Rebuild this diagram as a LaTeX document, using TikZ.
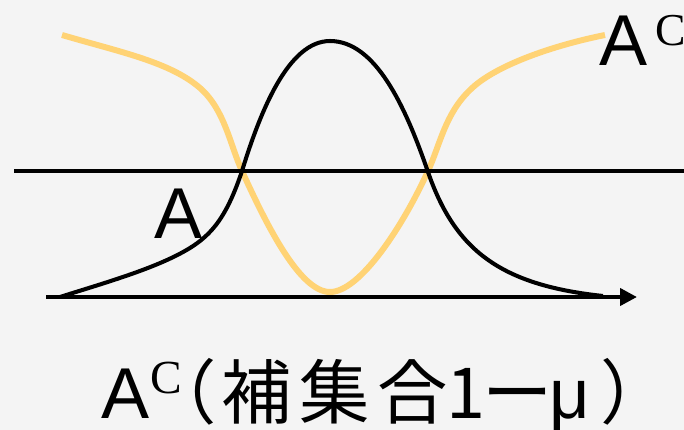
\documentclass[tikz,border=0pt]{standalone}
\usepackage{fontspec}
\setmainfont{Liberation Serif}
\setsansfont{Liberation Sans}
\newfontfamily\cjk[RawFeature=+palt]{Noto Sans CJK JP}
\usetikzlibrary{arrows.meta}

\definecolor{bgpaper}{RGB}{244,244,244}
\definecolor{compl}{RGB}{255,211,117}

% one pixel of the canvas, and a glyph centred at a pixel offset
\newlength\pxu
\setlength\pxu{0.02cm}
\newcommand\capat[2]{\makebox[0pt][l]{\hspace*{#1\pxu}\makebox[0pt]{#2}}}

\begin{document}
\begin{tikzpicture}[
    x=0.02cm, y=-0.02cm,
    >={Triangle[length=0.34cm, width=0.34cm]},
    curve/.style={line width=2.3pt, black},
    complcurve/.style={line width=3.4pt, compl},
    biglabel/.style={inner sep=0pt, anchor=base west, font=\fontsize{41}{41}\sffamily},
]

% === Canvas ===
\fill[bgpaper] (0,0) rectangle (684,430);
\useasboundingbox (0,0) rectangle (684,430);

% === Complement A^C (1 - mu) ===
\draw[complcurve] (62,35)
    .. controls (120,52) and (170,62) .. (200,88)
    .. controls (225,110) and (230,145) .. (242,171)
    .. controls (267,226) and (300,292) .. (330,292)
    .. controls (360,292) and (403,226) .. (428,171)
    .. controls (440,145) and (445,114) .. (470,90)
    .. controls (495,65) and (555,45) .. (605,35);

% === Level line and axis ===
\coordinate (lvlL) at (14,171);
\coordinate (lvlR) at (684,171);
\draw[curve] (lvlL) -- (lvlR);
\coordinate (axL) at (46,297);
\coordinate (axR) at (637,297);
\draw[curve, ->] (axL) -- (axR);

% === Membership A (mu) ===
\draw[curve] (60,297)
    .. controls (107,282) and (170,264.7) .. (200,241)
    .. controls (215,229) and (228,213) .. (242,171)
    .. controls (260,112.5) and (288,41) .. (330,41)
    .. controls (375,41) and (405,105) .. (428,172)
    .. controls (455,250) and (500,285) .. (603,296);

% === Labels ===
\node[biglabel] (labA) at (154,238) {A};
\node[biglabel] (labAc) at (599,65)
    {A\kern0.16cm\raisebox{0.4cm}{\fontsize{26}{26}\rmfamily C}};

% caption, glyphs at their pixel offsets
\node[biglabel] (caption) at (0,418) {%
    \capat{125}{A}%
    \capat{166}{\raisebox{0.5cm}{\fontsize{27}{27}\rmfamily C}}%
    {\cjk\fontsize{40}{40}\selectfont
     \capat{196}{（}\capat{256}{補}\capat{334}{集}\capat{412}{合}%
     \capat{466}{1}\capat{517}{ー}}%
    \capat{569}{\fontsize{40}{40}\sffamily μ}%
    \capat{620}{\cjk\fontsize{40}{40}\selectfont ）}%
    \hspace*{645\pxu}};

\end{tikzpicture}
\end{document}
